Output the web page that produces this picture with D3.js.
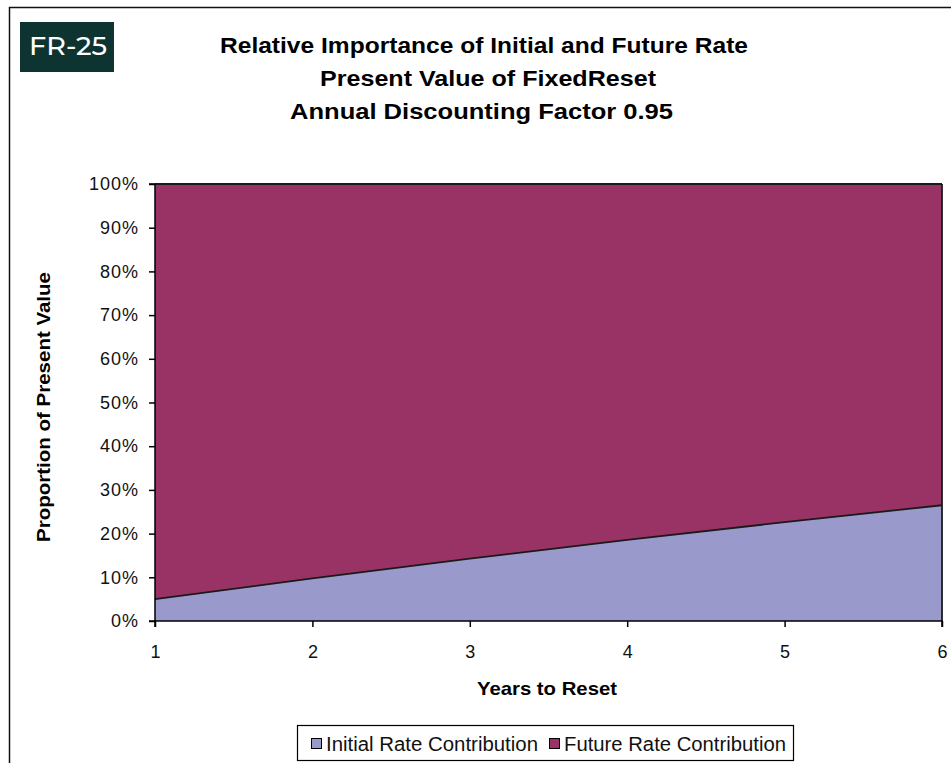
<!DOCTYPE html>
<html>
<head>
<meta charset="utf-8">
<script src="https://cdn.jsdelivr.net/npm/d3@7"></script>
<style>
  html, body { margin: 0; padding: 0; background: #ffffff; }
  svg { display: block; }
</style>
</head>
<body>
<svg id="chart" width="951" height="763"></svg>
<script>
// Years to reset and the share of present value from each rate
const years = [1, 2, 3, 4, 5, 6];
const initialRateShare = [0.05, 0.0975, 0.1426, 0.1855, 0.2262, 0.2649];
const futureRateShare = [0.95, 0.9025, 0.8574, 0.8145, 0.7738, 0.7351];
const yTickValues = [0, 0.1, 0.2, 0.3, 0.4, 0.5, 0.6, 0.7, 0.8, 0.9, 1.0];
const seriesNames = ["Initial Rate Contribution", "Future Rate Contribution"];
const titleLines = [
  "Relative Importance of Initial and Future Rate",
  "Present Value of FixedReset",
  "Annual Discounting Factor 0.95"
];

const colors = { initial: "#9999cc", future: "#993366" };
const font = "'Liberation Sans', Arial, sans-serif";

const svg = d3.select("#chart");
const W = 951, H = 763;
const plot = { left: 155, right: 942, top: 184, bottom: 621 };

// outer frame (top and left edges visible)
svg.append("path")
  .attr("d", `M9.5,${H} L9.5,7.5 L${W},7.5`)
  .attr("fill", "none").attr("stroke", "#111").attr("stroke-width", 1.5);

// badge
svg.append("rect").attr("x", 20).attr("y", 22).attr("width", 94).attr("height", 50)
  .attr("fill", "#0e3431");
svg.append("text").attr("x", 29).attr("y", 55)
  .attr("font-family", "Montserrat, 'Open Sans', sans-serif").attr("font-size", 25)
  .attr("font-weight", 500).attr("fill", "#ffffff")
  .attr("textLength", 78).attr("lengthAdjust", "spacingAndGlyphs")
  .text("FR-25");

// title, three lines
const titleLayout = [
  { x: 220, y: 53, len: 528 },
  { x: 320, y: 86, len: 336 },
  { x: 290, y: 119, len: 383 }
];
svg.selectAll("text.title").data(titleLines).join("text")
  .attr("class", "title")
  .attr("x", (d, i) => titleLayout[i].x).attr("y", (d, i) => titleLayout[i].y)
  .attr("textLength", (d, i) => titleLayout[i].len).attr("lengthAdjust", "spacingAndGlyphs")
  .attr("font-family", font).attr("font-size", 21.5).attr("font-weight", "bold")
  .attr("fill", "#000")
  .text(d => d);

const x = d3.scaleLinear().domain([d3.min(years), d3.max(years)]).range([plot.left, plot.right]);
const y = d3.scaleLinear().domain([0, 1]).range([plot.bottom, plot.top]);

// stacked data
const rows = years.map((yr, i) => ({ year: yr, initial: initialRateShare[i], future: futureRateShare[i] }));
const stack = d3.stack().keys(["initial", "future"]);
const layers = stack(rows);

const area = d3.area()
  .x(d => x(d.data.year))
  .y0(d => y(d[0]))
  .y1(d => y(d[1]));
const topLine = d3.line()
  .x(d => x(d.data.year))
  .y(d => y(d[1]));

svg.append("g").selectAll("path").data(layers).join("path")
  .attr("d", area)
  .attr("fill", d => colors[d.key]);

svg.append("g").selectAll("path").data(layers).join("path")
  .attr("d", topLine)
  .attr("fill", "none")
  .attr("stroke", "#1a1a1a").attr("stroke-width", 1.8);

// right edge of the plot
svg.append("line")
  .attr("x1", plot.right).attr("x2", plot.right)
  .attr("y1", plot.top).attr("y2", plot.bottom)
  .attr("stroke", "#1a1a1a").attr("stroke-width", 1.8);

// y axis
const yAxis = svg.append("g").attr("transform", `translate(${plot.left},0)`)
  .call(d3.axisLeft(y).tickValues(yTickValues).tickFormat(d3.format(".0%")).tickSize(6).tickPadding(11));
// x axis
const xAxis = svg.append("g").attr("transform", `translate(0,${plot.bottom})`)
  .call(d3.axisBottom(x).tickValues(years).tickFormat(d3.format("d")).tickSize(6).tickPadding(18));

[yAxis, xAxis].forEach(g => {
  g.select(".domain").attr("stroke", "#000").attr("stroke-width", 1.5);
  g.selectAll(".tick line").attr("stroke", "#000").attr("stroke-width", 1.5);
  g.selectAll(".tick text").attr("font-family", font).attr("font-size", 18).attr("fill", "#111");
});
yAxis.selectAll(".tick text").attr("letter-spacing", 1).attr("dx", 1);
yAxis.select(".domain").attr("d", `M-6,${plot.top}H0V${plot.bottom}H-6`);
xAxis.select(".domain").attr("d", `M${plot.left},6V0H${plot.right}V6`);

// axis titles
svg.append("text")
  .attr("transform", `translate(50,407) rotate(-90)`)
  .attr("x", -135)
  .attr("textLength", 270).attr("lengthAdjust", "spacingAndGlyphs")
  .attr("font-family", font).attr("font-size", 19).attr("font-weight", "bold")
  .text("Proportion of Present Value");
svg.append("text")
  .attr("x", 477).attr("y", 695)
  .attr("textLength", 140).attr("lengthAdjust", "spacingAndGlyphs")
  .attr("font-family", font).attr("font-size", 19).attr("font-weight", "bold")
  .text("Years to Reset");

// legend
const legend = svg.append("g");
legend.append("rect").attr("x", 297.5).attr("y", 725.5).attr("width", 496).attr("height", 35)
  .attr("fill", "#fff").attr("stroke", "#000").attr("stroke-width", 1.2);
const legendItems = [
  { name: seriesNames[0], color: colors.initial, x: 311, len: 212 },
  { name: seriesNames[1], color: colors.future, x: 549, len: 222 }
];
legendItems.forEach(it => {
  legend.append("rect").attr("x", it.x + 0.5).attr("y", 738.5).attr("width", 10).attr("height", 10)
    .attr("fill", it.color).attr("stroke", "#000").attr("stroke-width", 1);
  legend.append("text").attr("x", it.x + 15).attr("y", 751)
    .attr("textLength", it.len).attr("lengthAdjust", "spacingAndGlyphs")
    .attr("font-family", font).attr("font-size", 20).attr("fill", "#111")
    .text(it.name);
});
</script>
</body>
</html>
